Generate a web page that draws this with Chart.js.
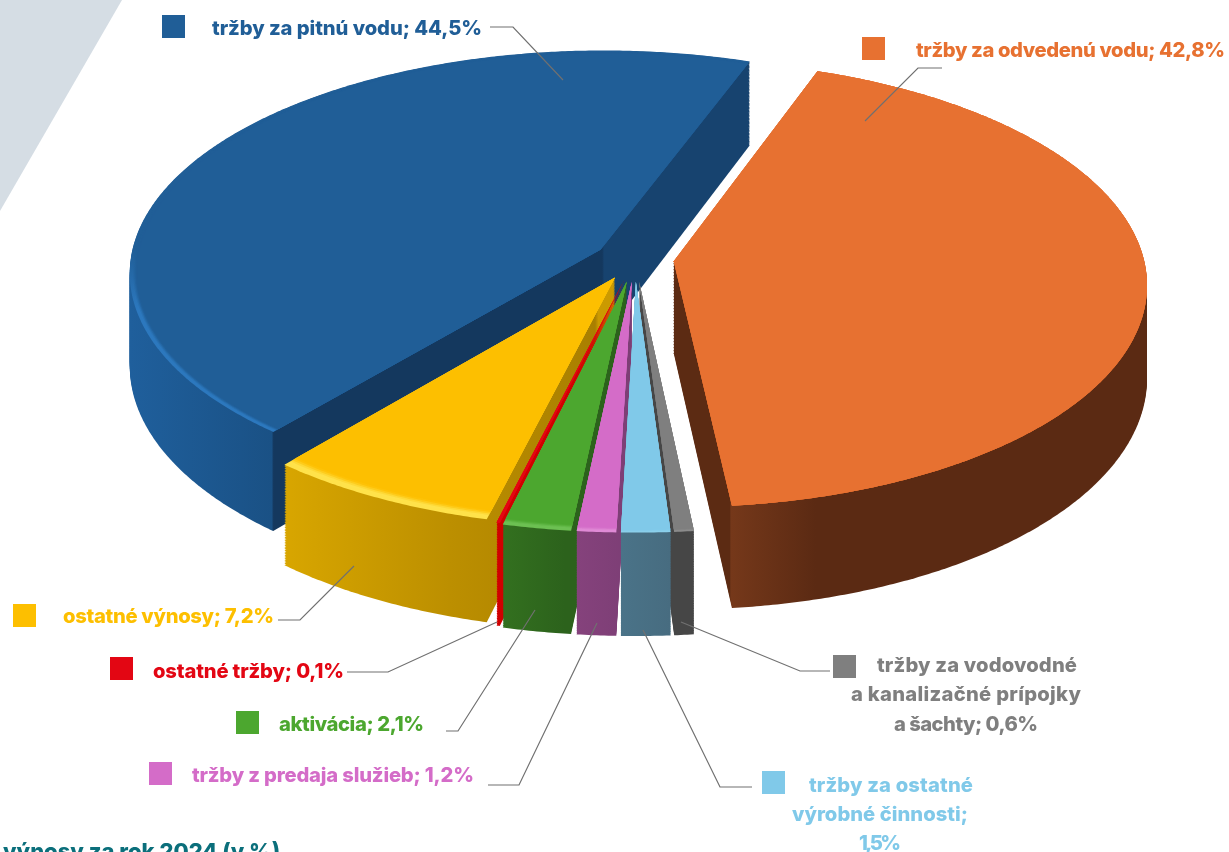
<!DOCTYPE html>
<html lang="sk"><head><meta charset="utf-8">
<style>
html,body{margin:0;padding:0;background:#fff;overflow:hidden}
#wrap{position:relative;width:1229px;height:852px;overflow:hidden}
#deco{position:absolute;left:0;top:0;width:125px;height:215px;background:#d5dde4;clip-path:polygon(0 0,122px 0,0 211px)}
canvas{position:absolute;left:0;top:0}
</style></head><body>
<div id="wrap"><div id="deco"></div><canvas id="c" width="1229" height="852"></canvas></div>
<script src="https://cdn.jsdelivr.net/npm/chart.js@4"></script>
<script>
// ---- data ----
const categories = ['tržby za odvedenú vodu','tržby za vodovodné\na kanalizačné prípojky\na šachty','tržby za ostatné\nvýrobné činnosti','tržby z predaja služieb','aktivácia','ostatné tržby','ostatné výnosy','tržby za pitnú vodu'];
const values = [42.8,0.6,1.5,1.2,2.1,0.1,7.2,44.5];
const valueOnOwnLine = [false,false,true,false,false,false,false,false];
const chartTitle = 'výnosy za rok 2024 (v %)';
// ---- styles ----
const topColors  = ['#E77131','#7F7F7F','#80C9E9','#D46CC8','#4CA72F','#E30613','#FDBF00','#205E97'];
const rimColors  = ['#E77131','#8C8C8C','#8BD0EC','#E08AD6','#6CC052','#FF0000','#FFE24A','#2C78BE'];
const rimWidths  = [0,4,4,7,9,0,13,6];
const sideColors = [
 [[0,'#5C2B13'],[0.118,'#5C2B13'],[0.121,'#75381A'],[0.3,'#5B2A13'],[1,'#5B2A13']],
 [[0,'#464646'],[1,'#464646']],
 [[0,'#4A7388'],[1,'#476C80']],
 [[0,'#85427C'],[1,'#7C3E75']],
 [[0,'#33701F'],[0.5,'#2C621C'],[1,'#2C621C']],
 [[0,'#D00000'],[1,'#D00000']],
 [[0,'#D8A600'],[0.5,'#BC8F00'],[0.94,'#A97F00'],[0.95,'#CB9A00'],[1,'#CB9A00']],
 [[0,'#1F5F9C'],[0.229,'#1A5185'],[0.232,'#14385E'],[0.762,'#14385E'],[0.765,'#17436F'],[1,'#17436F']]
];
const offsets = [156,192,192,192,192,184,176,160];
const drawOrder = [7,0,1,6,5,4,3,2];
const TILT = 0.47, PERSPECTIVE = 0.1, DEPTH = 92, RADIUS = 470;
const FONT = '800 20.2px Inter, "Open Sans", sans-serif';
const TITLE_FONT = '800 22px Inter, "Open Sans", sans-serif';

// layout of the annotations, indexed like categories: each text line is [left, middle, right]
const annotations = [
 {sw:[862,37],lines:[[916,51,1225]],leader:[[942,68],[918,68],[865,121]]},
 {sw:[833,655],lines:[[877,666,1077],[851,695,1081],[894,725,1038]],leader:[[830,671],[800,671],[681,622]]},
 {sw:[762,771],lines:[[809,786,973],[792,815,968],[859,844,901]],leader:[[752,787],[720,787],[643,630]]},
 {sw:[149,762],lines:[[192,776,474]],leader:[[488,785],[519,785],[597,623]]},
 {sw:[236,711],lines:[[279,725,424]],leader:[[446,731],[458,731],[535,610]]},
 {sw:[110,657],lines:[[153,672,344]],leader:[[347,672],[388,672],[497,622]]},
 {sw:[13,604],lines:[[63,617,274]],leader:[[278,620],[300,620],[354,566]]},
 {sw:[162,15],lines:[[212,29,482]],leader:[[490,27],[513,27],[563,80]]}
];

function project(cx,cy,x,y,depth){
  const u=x-cx,v=y-cy,w=1-PERSPECTIVE*v/RADIUS;
  return [cx+u/w,cy+(TILT*v+depth)/w];
}
// A view of the context that lets the library's ArcElement draw through the tilted projection.
function tilted(ctx,el,tx0,ty0,depth,fill){
  let tx=tx0,ty=ty0;const st=[];
  const P=(x,y)=>project(el.x,el.y,x+tx,y+ty,depth);
  const api={
    save(){st.push([tx,ty]);ctx.save();},
    restore(){[tx,ty]=st.pop();ctx.restore();},
    translate(a,b){tx+=a;ty+=b;},
    moveTo(x,y){ctx.moveTo(...P(x,y));},
    lineTo(x,y){ctx.lineTo(...P(x,y));},
    arc(x,y,r,a0,a1,ccw){
      if(r<=0){ctx.lineTo(...P(x,y));return;}
      const n=Math.max(2,Math.ceil(Math.abs(a1-a0)/0.008));
      for(let i=0;i<=n;i++){const a=a0+(a1-a0)*i/n;ctx.lineTo(...P(x+r*Math.cos(a),y+r*Math.sin(a)));}
    }
  };
  return new Proxy(ctx,{
    get(t,k){if(k in api)return api[k];const v=t[k];return typeof v==='function'?v.bind(t):v;},
    set(t,k,v){t[k]=(k==='fillStyle')?fill:v;return true;}
  });
}
// The explode distance is applied here as a plain shift, so that the slice keeps its full angle.
function drawSlice(ctx,el,depth,fill,inset){
  const keepR=el.outerRadius, keepO=el.options, d=(keepO.offset||0)/4, h=(el.startAngle+el.endAngle)/2;
  el.outerRadius=RADIUS-inset;
  el.options=Object.assign({},keepO,{offset:0});
  el.draw(tilted(ctx,el,Math.cos(h)*d,Math.sin(h)*d,depth,fill));
  el.outerRadius=keepR; el.options=keepO;
}
function sliceExtent(el){
  const d=(el.options.offset||0)/4,h=(el.startAngle+el.endAngle)/2;
  const ox=el.x+Math.cos(h)*d,oy=el.y+Math.sin(h)*d;
  let lo=1e9,hi=-1e9;
  const pts=[[ox,oy]];
  for(let i=0;i<=120;i++){const a=el.startAngle+(el.endAngle-el.startAngle)*i/120;pts.push([ox+RADIUS*Math.cos(a),oy+RADIUS*Math.sin(a)]);}
  pts.forEach(p=>{const q=project(el.x,el.y,p[0],p[1],0);lo=Math.min(lo,q[0]);hi=Math.max(hi,q[0]);});
  return [lo,hi];
}
// writes a line so that it spans exactly from its left to its right end
function fitText(ctx,text,left,mid,right){
  ctx.letterSpacing='0px';
  const extra=(right-left-ctx.measureText(text).width)/Math.max(1,text.length-1);
  ctx.letterSpacing=extra.toFixed(3)+'px';
  ctx.fillText(text,left,mid);
  ctx.letterSpacing='0px';
}
const pie3d={
  id:'pie3d',
  beforeDatasetsDraw(chart){
    const ctx=chart.ctx,arcs=chart.getDatasetMeta(0).data;
    drawOrder.forEach(i=>{
      const el=arcs[i],[lo,hi]=sliceExtent(el);
      const g=ctx.createLinearGradient(lo,0,hi,0);
      sideColors[i].forEach(s=>g.addColorStop(s[0],s[1]));
      for(let dp=DEPTH;dp>0;dp-=1.5) drawSlice(ctx,el,dp,g,0);
      // the bright bevel shows only towards the viewer and fades softly into the top face
      const rg=ctx.createLinearGradient(0,el.y-10,0,el.y+50);
      rg.addColorStop(0,topColors[i]);rg.addColorStop(1,rimColors[i]);
      drawSlice(ctx,el,0,rg,0);
      ctx.save();
      for(let j=1;j<=4;j++){
        ctx.globalAlpha=j/4;
        drawSlice(ctx,el,0,topColors[i],rimWidths[i]*(0.4+0.2*j));
      }
      ctx.restore();
    });
    return false;
  },
  afterDraw(chart){
    const ctx=chart.ctx;
    ctx.save();
    annotations.forEach((a,i)=>{
      ctx.strokeStyle='#707070';ctx.lineWidth=1.2;ctx.beginPath();
      a.leader.forEach((p,j)=>j?ctx.lineTo(p[0],p[1]):ctx.moveTo(p[0],p[1]));ctx.stroke();
      ctx.fillStyle=topColors[i];
      ctx.fillRect(a.sw[0],a.sw[1],23,23);
      const val=String(values[i]).replace('.',',')+'%';
      const txt=categories[i]+';'+(valueOnOwnLine[i]?'\n':' ')+val;
      ctx.font=FONT;ctx.textBaseline='middle';ctx.textAlign='left';
      txt.split('\n').forEach((ln,j)=>fitText(ctx,ln,a.lines[j][0],a.lines[j][1],a.lines[j][2]));
    });
    ctx.fillStyle='#0B6F7B';ctx.font=TITLE_FONT;ctx.textBaseline='alphabetic';
    ctx.fillText(chartTitle,3,859);
    ctx.restore();
  }
};
new Chart(document.getElementById('c'),{
  type:'pie',
  data:{labels:categories,datasets:[{data:values,backgroundColor:topColors,offset:offsets,borderWidth:0,clip:false}]},
  options:{
    responsive:false,animation:false,events:[],
    rotation:20,radius:RADIUS,
    layout:{padding:{left:41,bottom:334}},
    plugins:{legend:{display:false},tooltip:{enabled:false}}
  },
  plugins:[pie3d]
});
</script></body></html>
